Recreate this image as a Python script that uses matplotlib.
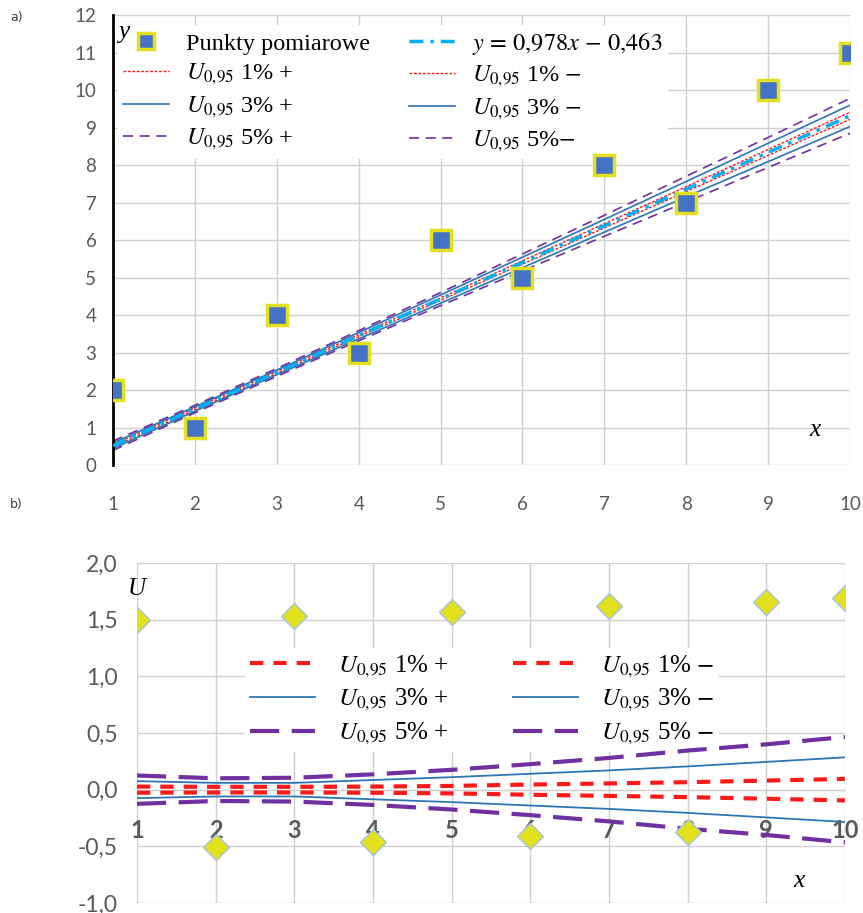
import numpy as np
import matplotlib
matplotlib.use('Agg')
import matplotlib.pyplot as plt

plt.rcParams['mathtext.fontset'] = 'stix'

# dane
x = [1, 2, 3, 4, 5, 6, 7, 8, 9, 10]
y_pomiar = [2, 1, 4, 3, 6, 5, 8, 7, 10, 11]
y_fit = [0.515, 1.493, 2.471, 3.449, 4.427, 5.405, 6.383, 7.361, 8.339, 9.317]
U1 = [0.027, 0.025, 0.025, 0.027, 0.033, 0.045, 0.055, 0.066, 0.080, 0.095]
U3 = [0.075, 0.060, 0.060, 0.085, 0.110, 0.140, 0.170, 0.205, 0.245, 0.285]
U5 = [0.125, 0.100, 0.105, 0.135, 0.175, 0.225, 0.280, 0.345, 0.400, 0.465]
reszty = [1.50, -0.51, 1.53, -0.46, 1.57, -0.41, 1.62, -0.37, 1.66, 1.69]
y_ticks_a = list(range(0, 13))
y_ticks_b = [2.0, 1.5, 1.0, 0.5, 0.0, -0.5, -1.0]
y_labels_b = ['2,0', '1,5', '1,0', '0,5', '0,0', '-0,5', '-1,0']

fit = np.array(y_fit)
u1, u3, u5 = np.array(U1), np.array(U3), np.array(U5)

lab_fit = r'$y\, =\, 0{,}978x\, -\, 0{,}463$'
lab_U = r'$U_{0{,}95}$'

tick_col = '#595959'
grid_col = '#d0d0d0'
red = '#ff1a1a'
blue = '#2e75b6'
purple = '#7030a0'
cyan = '#00b0f0'
serif = 'Liberation Serif'

fig = plt.figure(figsize=(8.63, 9.13), dpi=100)

# ---------------- a) ----------------
ax1 = fig.add_axes([0.131, 0.4907, 0.854, 0.4926])
p, = ax1.plot(x, y_pomiar, linestyle='none', marker='s', ms=15, mfc='#4472c4',
              mec='#e3e01e', mew=2.5, zorder=6, label='Punkty pomiarowe')
l1p, = ax1.plot(x, fit + u1, color=red, lw=1, dashes=(2, 1.2), label=lab_U + r' 1% +')
l3p, = ax1.plot(x, fit + u3, color=blue, lw=1.2, label=lab_U + r' 3% +')
l5p, = ax1.plot(x, fit + u5, color=purple, lw=1.2, dashes=(6, 4), label=lab_U + r' 5% +')
lf, = ax1.plot(x, y_fit, color=cyan, lw=2.5, dashes=(4, 2, 1, 2), label=lab_fit, zorder=5)
l1m, = ax1.plot(x, fit - u1, color=red, lw=1, dashes=(2, 1.2), label=lab_U + r' 1% $-$')
l3m, = ax1.plot(x, fit - u3, color=blue, lw=1.2, label=lab_U + r' 3% $-$')
l5m, = ax1.plot(x, fit - u5, color=purple, lw=1.2, dashes=(6, 4), label=lab_U + r' 5%$-$')

ax1.set_xlim(1, 10)
ax1.set_ylim(0, 12)
ax1.set_xticks(x)
ax1.set_yticks(y_ticks_a)
ax1.grid(True, color=grid_col, lw=1)
ax1.set_axisbelow(True)
for s in ['top', 'right', 'bottom']:
    ax1.spines[s].set_visible(False)
ax1.spines['left'].set_color('black')
ax1.spines['left'].set_linewidth(2)
ax1.tick_params(length=0, labelcolor=tick_col, labelsize=13.5)
ax1.tick_params(axis='x', pad=22)
ax1.tick_params(axis='y', pad=12)
for t in ax1.get_xticklabels() + ax1.get_yticklabels():
    t.set_fontfamily('Lato')

leg1 = ax1.legend(handles=[p, l1p, l3p, l5p, lf, l1m, l3m, l5m], ncol=2,
                  loc='upper left', bbox_to_anchor=(0.137, 0.973),
                  bbox_transform=fig.transFigure, frameon=True, fancybox=False,
                  edgecolor='none', facecolor='white', framealpha=1,
                  prop={'family': serif, 'size': 17.5}, handlelength=1.9,
                  handletextpad=0.7, columnspacing=1.6, labelspacing=0.3,
                  borderpad=0.2, borderaxespad=0, markerscale=0.75)
ax1.text(1.06, 11.55, 'y', fontsize=18, fontstyle='italic', family=serif,
         va='center', ha='left', zorder=10)
ax1.text(9.57, 0.93, 'x', fontsize=18, fontstyle='italic', family=serif,
         va='center', ha='center')

# ---------------- b) ----------------
ax2 = fig.add_axes([0.1587, 0.011, 0.8203, 0.3723])
ax2.plot(x, reszty, linestyle='none', marker='D', ms=13, mfc='#e3e01e',
         mec='#9dc3e6', mew=1, zorder=7)
b1p, = ax2.plot(x, u1, color=red, lw=3, dashes=(3.2, 2.4), zorder=6, label=lab_U + r' 1% +')
b3p, = ax2.plot(x, u3, color=blue, lw=1.3, zorder=6, label=lab_U + r' 3% +')
b5p, = ax2.plot(x, u5, color=purple, lw=3, dashes=(7, 3), zorder=6, label=lab_U + r' 5% +')
b1m, = ax2.plot(x, -u1, color=red, lw=3, dashes=(3.2, 2.4), zorder=6, label=lab_U + r' 1% $-$')
b3m, = ax2.plot(x, -u3, color=blue, lw=1.3, zorder=6, label=lab_U + r' 3% $-$')
b5m, = ax2.plot(x, -u5, color=purple, lw=3, dashes=(7, 3), zorder=6, label=lab_U + r' 5% $-$')

ax2.set_xlim(1, 10)
ax2.set_ylim(-1.0, 2.0)
ax2.set_xticks(x)
ax2.set_yticks(y_ticks_b)
ax2.set_yticklabels(y_labels_b)
ax2.grid(True, color=grid_col, lw=1)
ax2.set_axisbelow(True)
for s in ['top', 'right', 'left']:
    ax2.spines[s].set_visible(False)
ax2.spines['bottom'].set_position(('data', 0))
ax2.spines['bottom'].set_color(grid_col)
ax2.tick_params(length=0)
ax2.tick_params(axis='y', labelcolor=tick_col, labelsize=16.5, pad=14)
ax2.tick_params(axis='x', labelcolor=tick_col, labelsize=17, pad=21)
for t in ax2.get_yticklabels():
    t.set_fontfamily('Lato')
for t in ax2.get_xticklabels():
    t.set_fontfamily('Lato')
    t.set_fontweight('bold')

leg2 = ax2.legend(handles=[b1p, b3p, b5p, b1m, b3m, b5m], ncol=2,
                  loc='upper left', bbox_to_anchor=(0.284, 0.290),
                  bbox_transform=fig.transFigure, frameon=True, fancybox=False,
                  edgecolor='none', facecolor='white', framealpha=1,
                  prop={'family': serif, 'size': 18}, handlelength=2.6,
                  handletextpad=0.9, columnspacing=2.6, labelspacing=0.3,
                  borderpad=0.2, borderaxespad=0)
leg2.set_zorder(5)
ax2.text(1.0, 1.77, 'U', fontsize=18, fontstyle='italic', family=serif,
         va='center', ha='center')
ax2.text(9.42, -0.81, 'x', fontsize=18, fontstyle='italic', family=serif,
         va='center', ha='center')

fig.text(0.012, 0.981, 'a)', fontsize=9, color='#404040', va='center')
fig.text(0.012, 0.447, 'b)', fontsize=9, color='#404040', va='center')

fig.savefig('out.png', dpi=100)
